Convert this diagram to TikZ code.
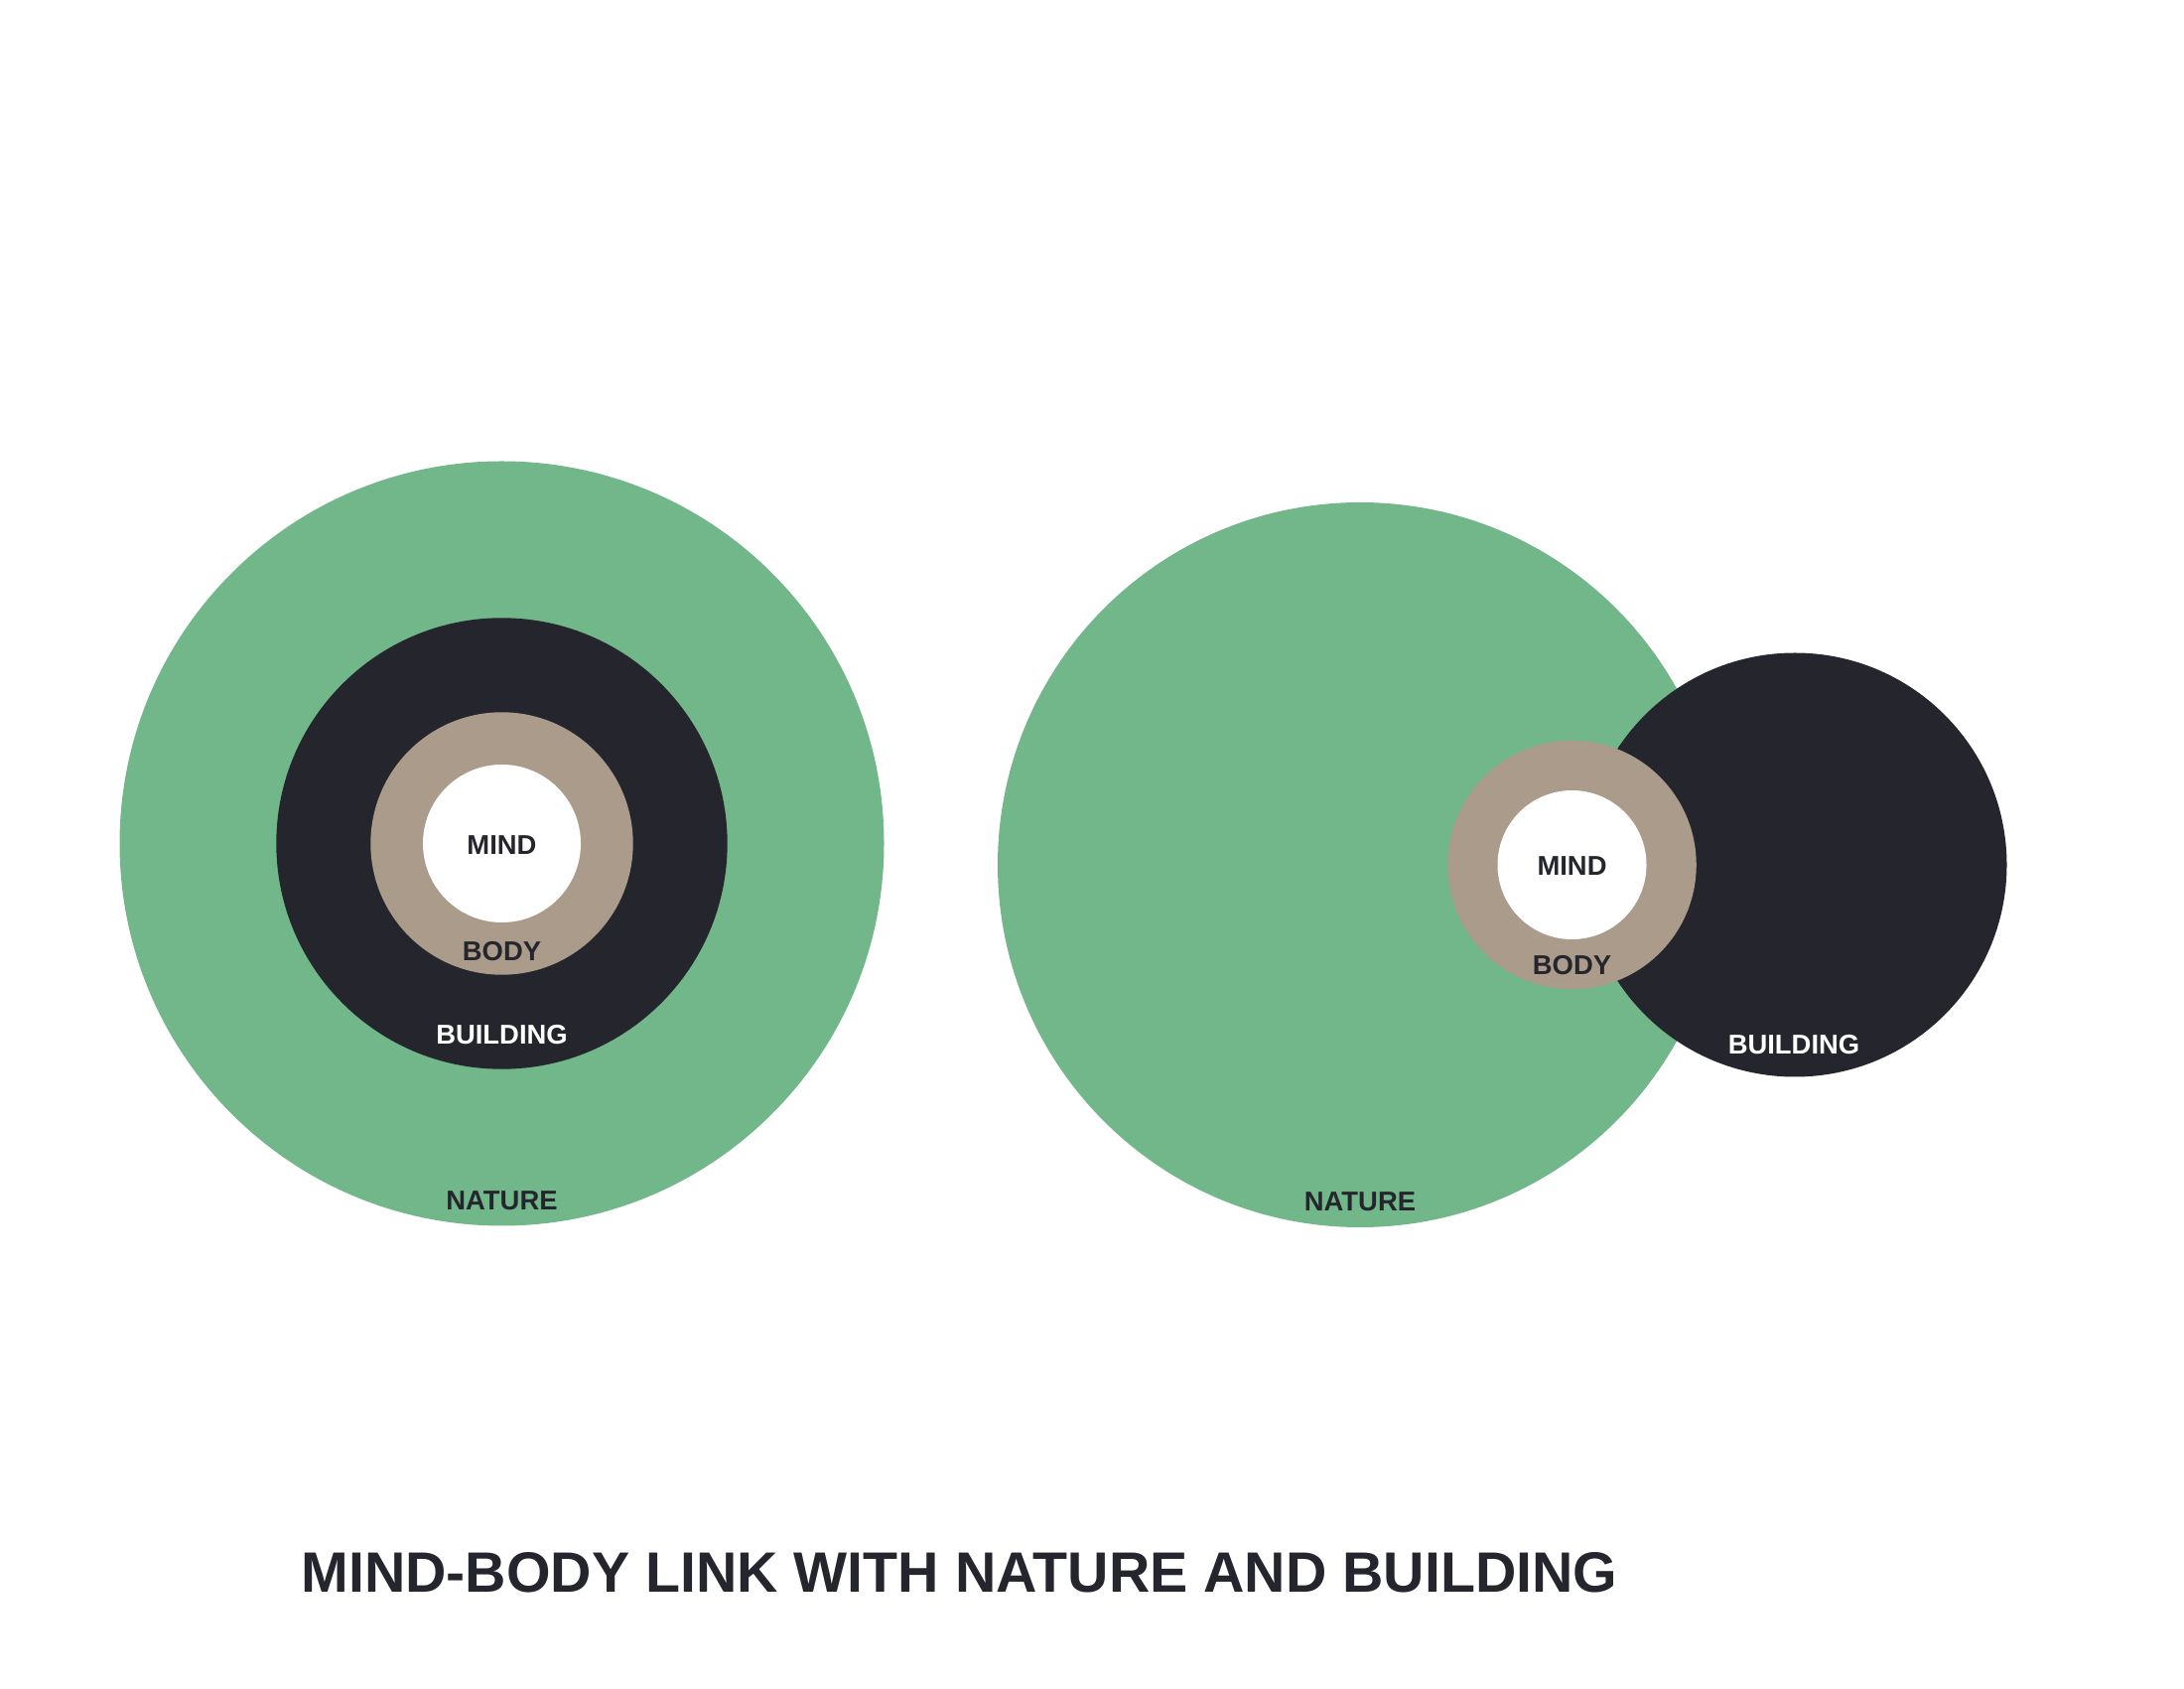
\documentclass[tikz,border=0pt]{standalone}
\usepackage{fontspec}
\setmainfont{Liberation Sans}
\definecolor{natgreen}{RGB}{114,183,138}
\definecolor{bldark}{RGB}{37,38,45}
\definecolor{bodytan}{RGB}{171,155,139}
\begin{document}
\begin{tikzpicture}[
  disc/.style={circle, draw=none, inner sep=0pt, minimum size=#1},
  lbl/.style={inner sep=0pt, font=\fontsize{7.8}{9}\selectfont\bfseries, text=bldark},
  wlbl/.style={lbl, text=white},
  title/.style={inner sep=0pt, font=\fontsize{16.3}{19}\selectfont\bfseries, text=bldark}
]
\useasboundingbox[fill=white] (0,0) rectangle (22,17);
% left group
\node[disc=7.70cm, fill=natgreen] (natL) at (5.055,8.505) {};
\node[disc=4.544cm, fill=bldark] (bldL) at (natL.center) {};
\node[disc=2.644cm, fill=bodytan] (bodL) at (natL.center) {};
\node[disc=1.59cm, fill=white] (minL) at (natL.center) {};
\node[lbl] (tMindL) at (5.055,8.49) {MIND};
\node[lbl] (tBodyL) at (5.055,7.42) {BODY};
\node[wlbl] (tBldL) at (5.055,6.58) {BUILDING};
\node[lbl] (tNatL) at (5.055,4.91) {NATURE};
% right group
\node[disc=7.30cm, fill=natgreen] (natR) at (13.70,8.29) {};
\node[disc=4.27cm, fill=bldark] (bldR) at (18.08,8.29) {};
\node[disc=2.505cm, fill=bodytan] (bodR) at (15.835,8.29) {};
\node[disc=1.50cm, fill=white] (minR) at (bodR.center) {};
\node[lbl] (tMindR) at (15.835,8.28) {MIND};
\node[lbl] (tBodyR) at (15.835,7.28) {BODY};
\node[wlbl] (tBldR) at (18.07,6.475) {BUILDING};
\node[lbl] (tNatR) at (13.70,4.90) {NATURE};
% title
\node[title] (ttl) at (9.665,1.165) {MIND-BODY LINK WITH NATURE AND BUILDING};
\end{tikzpicture}
\end{document}
